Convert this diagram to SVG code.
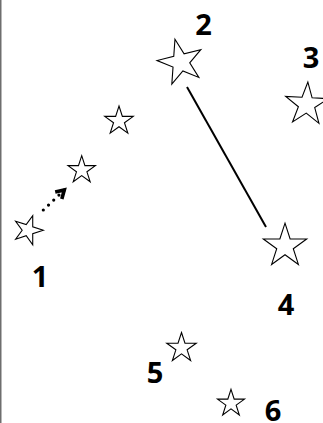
<svg xmlns="http://www.w3.org/2000/svg" width="323" height="423" viewBox="0 0 323 423">
  <style>
    .star { fill: #ffffff; stroke: #000000; stroke-width: 1.1; vector-effect: non-scaling-stroke; stroke-linejoin: miter; }
    .lbl { font-family: "Open Sans", "Noto Sans", sans-serif; font-weight: bold; font-size: 29px; fill: #000000; text-anchor: middle; }
    .edge { stroke: #000000; stroke-width: 2; fill: none; }
    .dotted { stroke: #000000; stroke-width: 3.2; fill: none; stroke-linecap: round; stroke-dasharray: 0 7.2; }
  </style>
  <defs>
    <marker id="chev" markerUnits="userSpaceOnUse" markerWidth="20" markerHeight="20" refX="0" refY="0" viewBox="-12 -10 16 20" orient="auto" overflow="visible">
      <path d="M-8,-4.8 L0,0 L-8,4.8" fill="none" stroke="#000000" stroke-width="3.6" stroke-linejoin="miter" stroke-linecap="butt"/>
    </marker>
  </defs>
  <rect x="0" y="0" width="1.5" height="423" fill="#6e6e6e"/>
  <g id="connectors">
    <line class="edge" x1="187" y1="87" x2="266" y2="227"/>
    <path class="dotted" d="M43.3,210 L64.3,190" marker-end="url(#chev)"/>
  </g>
  <g id="node1">
    <polygon class="star" points="0,-10 2.245,-3.09 9.511,-3.09 3.633,1.18 5.878,8.09 0,3.82 -5.878,8.09 -3.633,1.18 -9.511,-3.09 -2.245,-3.09" transform="translate(28,230.2) rotate(90) scale(1.53)"/>
    <text class="lbl" x="40" y="286.5">1</text>
  </g>
  <g id="nodeA">
    <polygon class="star" points="0,-10 2.245,-3.09 9.511,-3.09 3.633,1.18 5.878,8.09 0,3.82 -5.878,8.09 -3.633,1.18 -9.511,-3.09 -2.245,-3.09" transform="translate(81.7,170.1) scale(1.44)"/>
  </g>
  <g id="nodeB">
    <polygon class="star" points="0,-10 2.245,-3.09 9.511,-3.09 3.633,1.18 5.878,8.09 0,3.82 -5.878,8.09 -3.633,1.18 -9.511,-3.09 -2.245,-3.09" transform="translate(119,121) scale(1.5)"/>
  </g>
  <g id="node2">
    <polygon class="star" points="0,-10 2.245,-3.09 9.511,-3.09 3.633,1.18 5.878,8.09 0,3.82 -5.878,8.09 -3.633,1.18 -9.511,-3.09 -2.245,-3.09" transform="translate(180.7,62.2) rotate(-14) scale(2.37)"/>
    <text class="lbl" x="203.5" y="35">2</text>
  </g>
  <g id="node3">
    <polygon class="star" points="0,-10 2.245,-3.09 9.511,-3.09 3.633,1.18 5.878,8.09 0,3.82 -5.878,8.09 -3.633,1.18 -9.511,-3.09 -2.245,-3.09" transform="translate(306.7,104.5) rotate(3) scale(2.25)"/>
    <text class="lbl" x="311" y="68.3">3</text>
  </g>
  <g id="node4">
    <polygon class="star" points="0,-10 2.245,-3.09 9.511,-3.09 3.633,1.18 5.878,8.09 0,3.82 -5.878,8.09 -3.633,1.18 -9.511,-3.09 -2.245,-3.09" transform="translate(285,246) scale(2.28)"/>
    <text class="lbl" x="286" y="315">4</text>
  </g>
  <g id="node5">
    <polygon class="star" points="0,-10 2.245,-3.09 9.511,-3.09 3.633,1.18 5.878,8.09 0,3.82 -5.878,8.09 -3.633,1.18 -9.511,-3.09 -2.245,-3.09" transform="translate(181.5,348) scale(1.55)"/>
    <text class="lbl" x="155" y="383">5</text>
  </g>
  <g id="node6">
    <polygon class="star" points="0,-10 2.245,-3.09 9.511,-3.09 3.633,1.18 5.878,8.09 0,3.82 -5.878,8.09 -3.633,1.18 -9.511,-3.09 -2.245,-3.09" transform="translate(231,403.5) scale(1.42)"/>
    <text class="lbl" x="273" y="420.5">6</text>
  </g>
</svg>
